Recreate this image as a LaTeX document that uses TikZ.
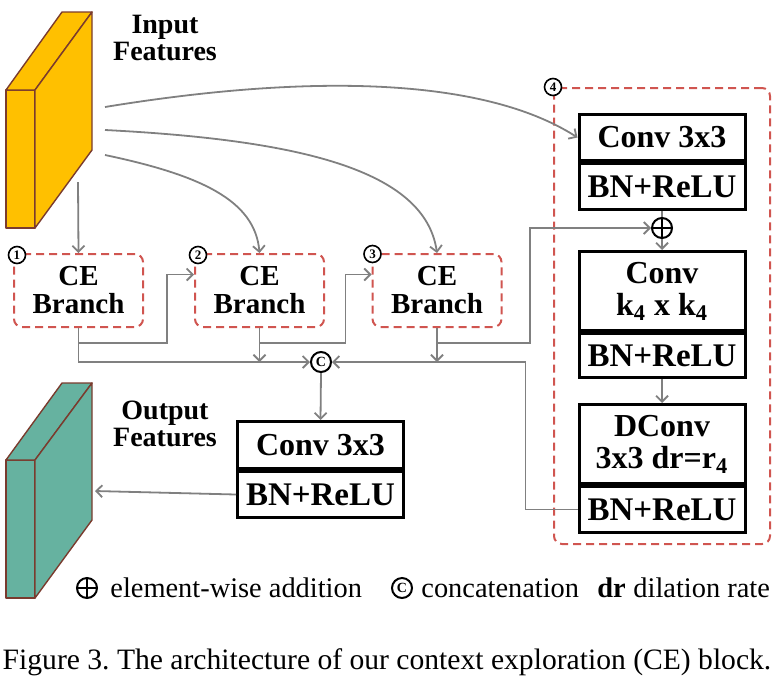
\documentclass[tikz,border=0pt]{standalone}
\usepackage{fontspec}
\setmainfont{Liberation Serif}
\usetikzlibrary{arrows.meta,positioning,calc}

\definecolor{featin}{HTML}{FFC000}
\definecolor{featout}{HTML}{66B2A0}
\definecolor{featedge}{HTML}{7A3B2E}
\definecolor{dashred}{HTML}{D05550}
\definecolor{linkgray}{HTML}{808080}

\tikzset{
  layer/.style={draw,line width=1.5pt,minimum width=83pt,minimum height=23pt,inner sep=0pt,
    align=center,font=\fontsize{16}{16}\selectfont\bfseries},
  bnlayer/.style={layer,minimum height=23pt,font=\fontsize{16.5}{16.5}\selectfont\bfseries},
  branch/.style={draw=dashred,line width=1pt,dash pattern=on 4pt off 2.5pt,rounded corners=4pt,
    minimum width=64.5pt,minimum height=36.5pt,inner sep=0pt,align=center,
    font=\fontsize{14.5}{14}\selectfont\bfseries},
  group/.style={draw=dashred,line width=1pt,dash pattern=on 4pt off 2.5pt,rounded corners=4pt,
    minimum width=108pt,minimum height=228pt,inner sep=0pt},
  tag/.style={circle,draw,fill=white,line width=0.8pt,inner sep=0pt,minimum size=8.5pt,
    font=\fontsize{6.5}{6.5}\selectfont\bfseries},
  catnode/.style={circle,draw,fill=white,line width=1pt,inner sep=0pt,minimum size=10pt,
    font=\fontsize{7}{7}\selectfont\bfseries},
  addnode/.style={circle,draw,line width=1pt,inner sep=0pt,minimum size=10pt,
    path picture={\draw[line width=1pt] (path picture bounding box.north) -- (path picture bounding box.south)
      (path picture bounding box.west) -- (path picture bounding box.east);}},
  link/.style={draw=linkgray,line width=0.9pt},
  arr/.style={link,-{Straight Barb[length=3pt,width=6pt]}},
  feat/.style={draw=featedge,line width=0.7pt,line join=round},
  label/.style={align=center,inner sep=0pt,font=\fontsize{14}{13.5}\selectfont\bfseries},
  legend/.style={inner sep=0pt,font=\fontsize{14.2}{14}\selectfont}
}

\begin{document}
\begin{tikzpicture}[x=0.5pt,y=-0.5pt]
\useasboundingbox (0,0) rectangle (779,686);

% feature maps
\filldraw[feat,fill=featin] (6,90) rectangle (35,228);
\filldraw[feat,fill=featin] (6,90) -- (62,12) -- (92,12) -- (35,90) -- cycle;
\filldraw[feat,fill=featin] (35,90) -- (92,12) -- (92,150) -- (35,228) -- cycle;
\filldraw[feat,fill=featout] (6,460) rectangle (35,598);
\filldraw[feat,fill=featout] (6,460) -- (62,383) -- (92,383) -- (35,460) -- cycle;
\filldraw[feat,fill=featout] (35,460) -- (92,383) -- (92,520) -- (35,598) -- cycle;
\node[label] (inlabel) at (165,38) {Input\\Features};
\node[label] (outlabel) at (165,424) {Output\\Features};
\coordinate (in1) at (105,107);
\coordinate (in2) at (105,130);
\coordinate (in3) at (105,155);
\coordinate (in4) at (78,182);
\coordinate (out) at (95,491);

% CE branches 1-3
\node[branch] (ce1) at (78.5,290.5) {CE\\Branch};
\node[branch] (ce2) at (259.5,290.5) {CE\\Branch};
\node[branch] (ce3) at (437,290.5) {CE\\Branch};
\node[tag] (t1) at ([shift={(4,2)}]ce1.north west) {1};
\node[tag] (t2) at ([shift={(4,2)}]ce2.north west) {2};
\node[tag] (t3) at ([shift={(1,1)}]ce3.north west) {3};

% branch 4
\node[group] (grp) at (662,316) {};
\node[tag] (t4) at (grp.north west) {4};
\node[layer,anchor=north] (conv1) at (662,113) {Conv 3x3};
\node[bnlayer,below=0pt of conv1] (bn1) {BN+ReLU};
\node[addnode] (add) at (662,228) {};
\node[layer,anchor=north,minimum height=39.5pt] (convk) at (662,250) {Conv\\k\textsubscript{4} x k\textsubscript{4}};
\node[bnlayer,below=0pt of convk,minimum height=22pt] (bnk) {BN+ReLU};
\node[layer,anchor=north,minimum height=39.5pt] (dconv) at (662,403) {DConv\\3x3 dr=r\textsubscript{4}};
\node[bnlayer,below=0pt of dconv] (bnd) {BN+ReLU};

% fusion
\node[catnode] (cat) at (321,362) {C};
\node[layer,anchor=north,minimum height=23.5pt] (convo) at (320.5,420) {Conv 3x3};
\node[bnlayer,below=0pt of convo] (bno) {BN+ReLU};

% connectors
\draw[arr] (in1) .. controls (300,75) and (480,75) .. (conv1.west);
\draw[arr] (in2) .. controls (300,140) and (425,170) .. (ce3.north);
\draw[arr] (in3) .. controls (200,175) and (255,200) .. (ce2.north);
\draw[arr] (in4) -- (ce1.north);
\draw[arr] (ce1.south) |- (cat.west);
\draw[arr] (ce1.south) -- ++(0,15) -| ($(ce2.west)+(-27,-16)$) -- ($(ce2.west)+(0,-16)$);
\draw[arr] (ce2.south) -- (ce2.south |- cat.west);
\draw[arr] (ce2.south) -- ++(0,15) -| ($(ce3.west)+(-26,-16)$) -- ($(ce3.west)+(0,-16)$);
\draw[arr] (ce3.south) -- (ce3.south |- cat.east);
\draw[arr] (ce3.south) -- ++(0,15) -| ($(add.west)+(-121,0)$) -- (add.west);
\draw[link] (bn1.south) -- (add.north);
\draw[arr] (add.south) -- (convk.north);
\draw[arr] (bnk.south) -- (dconv.north);
\draw[arr] (bnd.west) -- ++(-52,0) |- (cat.east);
\draw[arr] (cat.south) -- (convo.north);
\draw[arr] (bno.west) -- (out);

% legend
\node[addnode] (lgadd) at (87,588) {};
\node[legend,right=6pt of lgadd] (lgaddtext) {element-wise addition};
\node[catnode] (lgcat) at (402,588) {C};
\node[legend,right=4pt of lgcat] (lgcattext) {concatenation};
\node[legend,anchor=west,font=\fontsize{14.2}{14}\selectfont\bfseries] (lgdr) at (597,588) {dr};
\node[legend,anchor=west] (lgdrtext) at (633,588) {dilation rate};

% caption
\node[legend,font=\fontsize{14.8}{14}\selectfont\frenchspacing] (caption) at (387,662) {Figure 3. The architecture of our context exploration (CE) block.};
\end{tikzpicture}
\end{document}
